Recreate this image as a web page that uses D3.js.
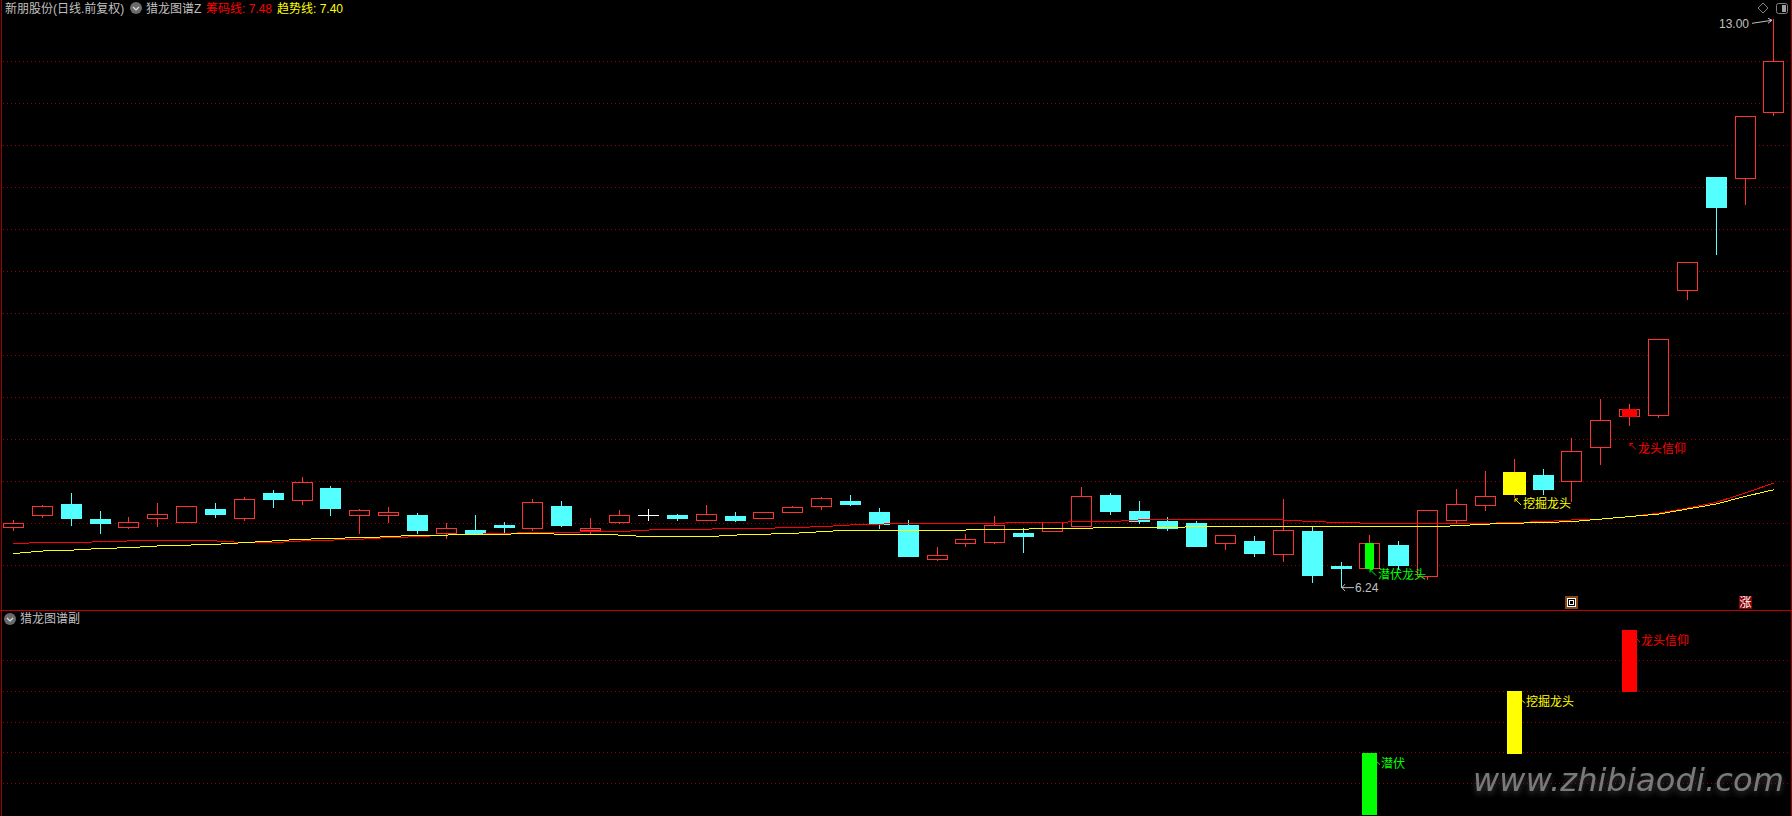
<!DOCTYPE html>
<html><head><meta charset="utf-8">
<script src="https://cdnjs.cloudflare.com/ajax/libs/d3/7.8.5/d3.min.js"></script>
<style>html,body{margin:0;padding:0;background:#000;overflow:hidden}svg{display:block}
text{font-family:"Liberation Sans","Noto Sans CJK SC",sans-serif;font-size:12px}</style></head><body><svg id="c" width="1792" height="816"></svg>
<script>
const opens =[6.96,7.10,7.23,7.05,6.96,7.06,7.01,7.17,7.06,7.36,7.28,7.42,7.10,7.10,7.10,6.89,6.92,6.98,6.95,7.21,6.92,7.02,7.10,7.10,7.04,7.09,7.06,7.14,7.21,7.27,7.14,6.98,6.58,6.77,6.78,6.89,6.91,6.97,7.34,7.15,7.03,7.00,6.76,6.79,6.64,6.91,6.49,6.47,6.74,6.37,7.04,7.22,7.35,7.58,7.50,7.91,8.28,8.29,9.78,11.12,11.11,11.90];
const closes=[7.00,7.20,7.06,7.00,7.02,7.11,7.20,7.11,7.29,7.29,7.49,7.18,7.16,7.13,6.92,6.95,6.87,6.96,7.25,6.98,6.95,7.10,7.10,7.06,7.11,7.04,7.14,7.19,7.30,7.23,6.99,6.61,6.62,6.81,6.98,6.85,7.01,7.33,7.15,7.03,6.95,6.73,6.86,6.65,6.92,6.39,6.47,6.76,6.50,7.16,7.23,7.33,7.61,7.41,7.86,8.23,8.36,9.19,10.11,10.77,11.85,12.50];
const highs =[7.04,7.22,7.36,7.15,7.08,7.24,7.20,7.24,7.31,7.40,7.55,7.44,7.17,7.19,7.12,7.00,7.10,7.02,7.29,7.27,7.06,7.16,7.17,7.11,7.22,7.14,7.14,7.21,7.31,7.34,7.18,7.04,6.72,6.87,7.09,6.95,7.01,7.43,7.36,7.27,7.08,7.03,6.86,6.85,7.29,6.96,6.54,6.86,6.79,7.16,7.41,7.62,7.77,7.65,8.02,8.48,8.42,9.19,10.11,11.12,11.85,13.00];
const lows  =[6.92,7.08,6.98,6.89,6.94,6.97,7.01,7.08,7.04,7.19,7.23,7.10,6.89,7.01,6.89,6.82,6.87,6.90,6.92,6.97,6.89,7.00,7.04,7.04,7.04,7.03,7.06,7.14,7.17,7.22,6.95,6.61,6.56,6.73,6.76,6.66,6.91,6.97,7.11,7.00,6.92,6.73,6.69,6.61,6.55,6.30,6.24,6.47,6.46,6.34,7.02,7.16,7.31,7.35,7.26,7.70,8.17,8.26,9.67,10.21,10.80,11.86];
const chipLine =[6.76,6.77,6.77,6.78,6.79,6.80,6.80,6.79,6.77,6.77,6.79,6.80,6.81,6.83,6.84,6.86,6.87,6.88,6.89,6.89,6.90,6.90,6.92,6.93,6.93,6.94,6.94,6.95,6.96,6.98,6.99,7.00,7.00,7.00,7.00,7.01,7.01,7.02,7.02,7.04,7.04,7.05,7.05,7.04,7.04,7.02,7.01,7.00,7.00,7.00,7.00,7.00,7.01,7.02,7.04,7.05,7.08,7.12,7.18,7.25,7.36,7.48];
const trendLine=[6.64,6.67,6.68,6.70,6.71,6.73,6.74,6.75,6.77,6.79,6.81,6.82,6.83,6.84,6.86,6.86,6.87,6.87,6.88,6.87,6.87,6.86,6.84,6.84,6.84,6.86,6.87,6.88,6.90,6.92,6.92,6.92,6.92,6.92,6.93,6.93,6.94,6.94,6.95,6.95,6.95,6.96,6.96,6.96,6.96,6.96,6.96,6.96,6.96,6.96,6.97,6.99,7.00,7.01,7.02,7.05,7.08,7.11,7.17,7.23,7.32,7.40];
const mainTicks=[12.5,12,11.5,11,10.5,10,9.5,9,8.5,8,7.5,7,6.5];
const subTicks=[2.5,2,1.5,1,0.5];
const overlays=[{i:47,w:9,color:"#00ff00"},{i:52,w:23,color:"#ffff00"},{i:56,w:15,color:"#ff0000"}];
const signals=[{i:47,from:0,to:1,color:"#00ff00",label:"潜伏",sub:"潜伏龙头",price:6.45},{i:52,from:1,to:2,color:"#ffff00",label:"挖掘龙头",sub:"挖掘龙头",price:7.29},{i:56,from:2,to:3,color:"#ff0000",label:"龙头信仰",sub:"龙头信仰",price:7.95}];
const badges=[{i:54,ch:"回",bg:"#8b4513"},{i:60,ch:"涨",bg:"#8b0000"}];
const titleParts=[{x:5,t:"新朋股份(日线.前复权)",c:"#c0c0c0"},{x:146,t:"猎龙图谱Z",c:"#c0c0c0"},{x:206,t:"筹码线: 7.48",c:"#ff0000"},{x:277,t:"趋势线: 7.40",c:"#ffff00"}];
const RED="#ff3232",CYAN="#54ffff",GRID="#960000";

const svg=d3.select("#c");
svg.append("rect").attr("width",1792).attr("height",816).attr("fill","#000");
const x=d3.scalePoint().domain(d3.range(opens.length)).range([13.5,1773.99]);
const y=d3.scaleLinear().domain([13,6]).range([19.3,607.3]);
const ys=d3.scaleLinear().domain([0,3]).range([814,630]);
const px=i=>Math.floor(x(i));
const py=v=>Math.round(y(v));

// frame
const frame=svg.append("g").attr("shape-rendering","crispEdges");
frame.append("line").attr("x1",1.5).attr("x2",1.5).attr("y1",0).attr("y2",816).attr("stroke","#a00000");
frame.append("line").attr("x1",1791.5).attr("x2",1791.5).attr("y1",0).attr("y2",816).attr("stroke","#a00000");
frame.append("line").attr("x1",0).attr("x2",1792).attr("y1",610.5).attr("y2",610.5).attr("stroke","#c00000");
// grid
const gridG=svg.append("g").attr("shape-rendering","crispEdges").attr("stroke",GRID).attr("stroke-dasharray","1 3");
gridG.selectAll(".m").data(mainTicks).join("line").attr("x1",3).attr("x2",1789).attr("y1",d=>Math.floor(y(d))+.5).attr("y2",d=>Math.floor(y(d))+.5);
gridG.selectAll(".s").data(subTicks).join("line").attr("x1",3).attr("x2",1789).attr("y1",d=>Math.floor(ys(d))+.5).attr("y2",d=>Math.floor(ys(d))+.5);

// candles
const cg=svg.append("g").attr("shape-rendering","crispEdges");
opens.forEach((o,i)=>{
  const c=closes[i],up=c>o,flat=c===o,col=flat?"#ffffff":(up?RED:CYAN),cx=px(i)+.5;
  const top=py(Math.max(o,c)),bot=py(Math.min(o,c));
  cg.append("line").attr("x1",cx).attr("x2",cx).attr("y1",py(highs[i])).attr("y2",py(lows[i])+1).attr("stroke",col);
  if(flat){cg.append("line").attr("x1",cx-10.5).attr("x2",cx+10.5).attr("y1",top+.5).attr("y2",top+.5).attr("stroke",col);}
  else if(up){cg.append("rect").attr("x",cx-10).attr("width",20).attr("y",top+.5).attr("height",bot-top).attr("fill","#000").attr("stroke",col);}
  else{cg.append("rect").attr("x",cx-10.5).attr("width",21).attr("y",top).attr("height",bot-top+1).attr("fill",col);}
});
overlays.forEach(d=>{
  const t=py(Math.max(opens[d.i],closes[d.i])),b=py(Math.min(opens[d.i],closes[d.i]));
  cg.append("rect").attr("x",px(d.i)+.5-d.w/2).attr("width",d.w).attr("y",t).attr("height",b-t+1).attr("fill",d.color);
});
// lines
const line=d3.line().x((d,i)=>x(i)).y(d=>y(d)).curve(d3.curveLinear);
svg.append("path").attr("d",line(chipLine)).attr("fill","none").attr("stroke","#ff0000").attr("stroke-width",1).attr("shape-rendering","crispEdges");
svg.append("path").attr("d",line(trendLine)).attr("fill","none").attr("stroke","#ffff00").attr("stroke-width",1).attr("shape-rendering","crispEdges");

// sub bars
svg.append("g").attr("shape-rendering","crispEdges").selectAll("rect").data(signals).join("rect")
 .attr("x",d=>px(d.i)-7).attr("width",15).attr("y",d=>ys(d.to)).attr("height",d=>ys(d.from)-ys(d.to)+1).attr("fill",d=>d.color);
// labels
signals.forEach(d=>{
  const sy=ys(d.to);
  svg.append("path").attr("d",`M${px(d.i)+8},${sy+9}l3,3`).attr("stroke",d.color).attr("fill","none");
  svg.append("text").attr("x",px(d.i)+12).attr("y",sy+15).attr("fill",d.color).text(d.label);
  const ax=px(d.i)+1,ay=y(d.price);
  svg.append("path").attr("d",`M${ax},${ay}h3M${ax},${ay}v3M${ax},${ay}l6,6`).attr("stroke",d.color).attr("fill","none");
  svg.append("text").attr("x",ax+8).attr("y",ay+9).attr("fill",d.color).text(d.sub);
});

// high/low labels
const hi=d3.max(highs),lo=d3.min(lows),hiI=highs.indexOf(hi),loI=lows.indexOf(lo);
svg.append("text").attr("x",px(hiI)-54).attr("y",y(hi)+9).attr("fill","#c0c0c0").text(hi.toFixed(2));
svg.append("path").attr("d",`M${px(hiI)-21},${y(hi)+4}L${px(hiI)-1},${y(hi)+1}M${px(hiI)-5},${y(hi)-1}L${px(hiI)-1},${y(hi)+1}L${px(hiI)-5},${y(hi)+4}`).attr("stroke","#c0c0c0").attr("fill","none");
svg.append("text").attr("x",px(loI)+14).attr("y",y(lo)+5).attr("fill","#c0c0c0").text(lo.toFixed(2));
svg.append("path").attr("d",`M${px(loI)+13},${y(lo)+.5}H${px(loI)+1}M${px(loI)+4},${y(lo)-3}L${px(loI)+1},${y(lo)+.5}L${px(loI)+4},${y(lo)+4}`).attr("stroke","#c0c0c0").attr("fill","none");

// badges
badges.forEach(d=>{
  const g=svg.append("g").attr("transform",`translate(${px(d.i)-6},596)`);
  g.append("rect").attr("width",13).attr("height",13).attr("fill",d.bg);
  if(d.ch==="回"){
    g.append("rect").attr("x",2.5).attr("y",2.5).attr("width",8).attr("height",8).attr("fill","#000").attr("stroke","#fff");
    g.append("rect").attr("x",4.5).attr("y",4.5).attr("width",4).attr("height",4).attr("fill","none").attr("stroke","#fff");
  } else {
    g.append("text").attr("x",6.5).attr("y",11).attr("text-anchor","middle").attr("fill","#fff").text(d.ch);
  }
});

// header
titleParts.forEach(p=>svg.append("text").attr("x",p.x).attr("y",13).attr("fill",p.c).text(p.t));
function chev(cx,cy){
  svg.append("circle").attr("cx",cx).attr("cy",cy).attr("r",6).attr("fill","#6a6a6a");
  svg.append("path").attr("d",`M${cx-3},${cy-1}l3,3l3,-3`).attr("fill","none").attr("stroke","#e0e0e0").attr("stroke-width",1.2);
}
chev(136,8);chev(10,619);
svg.append("text").attr("x",20).attr("y",623).attr("fill","#c0c0c0").text("猎龙图谱副");
// corner icons
svg.append("path").attr("d","M1763,3l5,5l-5,5l-5,-5z").attr("fill","none").attr("stroke","#808080");
svg.append("rect").attr("x",1776.5).attr("y",3.5).attr("width",11).attr("height",10).attr("rx",2).attr("fill","none").attr("stroke","#808080");
svg.append("rect").attr("x",1782).attr("y",5).attr("width",4).attr("height",7).attr("fill","#a0a0a0");

// watermark
const defs=svg.append("defs");
const f=defs.append("filter").attr("id","ws").attr("x","-5%").attr("y","-30%").attr("width","110%").attr("height","170%");
f.append("feDropShadow").attr("dx",0).attr("dy",3).attr("stdDeviation",3).attr("flood-color","#3a3a3a");
svg.append("text").attr("x",1473).attr("y",791).attr("fill","#7a7a7a").attr("filter","url(#ws)")
 .attr("textLength",311).attr("lengthAdjust","spacing")
 .style("font-family","'DejaVu Sans'").style("font-style","oblique").style("font-weight","normal").style("font-size","32px").text("www.zhibiaodi.com");
</script></body></html>
